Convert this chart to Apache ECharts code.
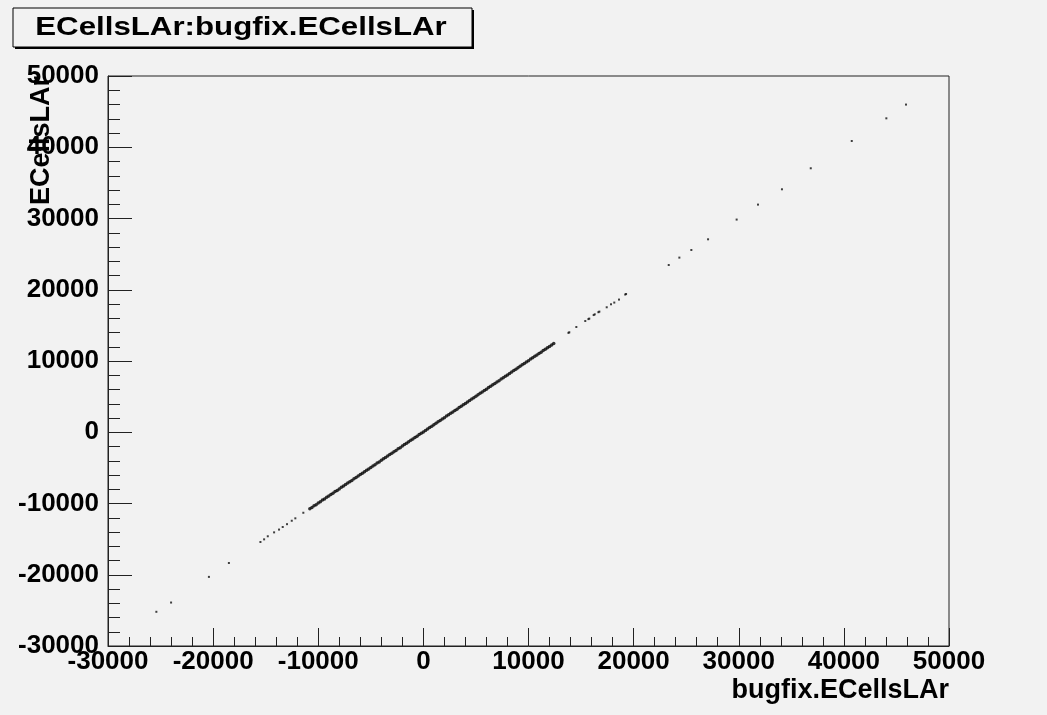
<!DOCTYPE html>
<html>
<head>
<meta charset="utf-8">
<script src="https://cdn.jsdelivr.net/npm/echarts@6/dist/echarts.min.js"></script>
<style>
html,body{margin:0;padding:0;background:#f2f2f2;}
#c{width:1047px;height:715px;}
</style>
</head>
<body>
<div id="c"></div>
<script>
// ---- data ----
const titleText = 'ECellsLAr:bugfix.ECellsLAr';
const xTitle = 'bugfix.ECellsLAr';
const yTitle = 'ECellsLAr';
const xRange = [-30000, 50000];
const yRange = [-30000, 50000];
const tickStep = 10000;

// dense core of the correlation (bugfix.ECellsLAr, ECellsLAr)
const coreCells = [
  [-10800,-10740],[-10600,-10560],[-10400,-10330],[-10200,-10170],[-10000,-9930],
  [-9800,-9760],[-9600,-9520],[-9400,-9380],[-9200,-9120],[-9000,-8950],
  [-8800,-8740],[-8600,-8570],[-8400,-8330],[-8200,-8160],[-8000,-7950],
  [-7800,-7730],[-7600,-7560],[-7400,-7350],[-7200,-7140],[-7000,-6930],
  [-6800,-6770],[-6600,-6520],[-6400,-6350],[-6200,-6150],[-6000,-5930],
  [-5800,-5760],[-5600,-5540],[-5400,-5330],[-5200,-5170],[-5000,-4930],
  [-4800,-4750],[-4600,-4560],[-4400,-4320],[-4200,-4170],[-4000,-3940],
  [-3800,-3730],[-3600,-3560],[-3400,-3350],[-3200,-3120],[-3000,-2960],
  [-2800,-2740],[-2600,-2550],[-2400,-2320],[-2200,-2160],[-2000,-1940],
  [-1800,-1730],[-1600,-1560],[-1400,-1350],[-1200,-1130],[-1000,-960],
  [-800,-740],[-600,-560],[-400,-330],[-200,-150],[0,40],
  [200,260],[400,440],[600,670],[800,830],[1000,1060],
  [1200,1250],[1400,1470],[1600,1640],[1800,1860],[2000,2050],
  [2200,2270],[2400,2440],[2600,2660],[2800,2850],[3000,3070],
  [3200,3240],[3400,3460],[3600,3650],[3800,3870],[4000,4040],
  [4200,4260],[4400,4450],[4600,4670],[4800,4840],[5000,5060],
  [5200,5250],[5400,5470],[5600,5640],[5800,5860],[6000,6050],
  [6200,6270],[6400,6440],[6600,6660],[6800,6850],[7000,7070],
  [7200,7240],[7400,7460],[7600,7650],[7800,7870],[8000,8040],
  [8200,8260],[8400,8450],[8600,8670],[8800,8840],[9000,9060],
  [9200,9250],[9400,9470],[9600,9640],[9800,9860],[10000,10050],
  [10200,10270],[10400,10440],[10600,10660],[10800,10850],[11000,11070],
  [11200,11240],[11400,11460],[11600,11650],[11800,11870],[12000,12040],
  [12200,12260],[12400,12470]
];

// isolated cells away from the core
const sparseCells = [
  [-25400,-25200],[-24000,-23900],[-20400,-20300],[-18500,-18350],
  [-15500,-15400],[-15150,-15030],[-14800,-14600],[-14200,-14050],
  [-13730,-13660],[-13380,-13300],[-12970,-12900],[-12520,-12420],
  [-12180,-12080],[-11420,-11300],
  [13800,13950],[13880,14030],[14550,14770],[15400,15610],[15700,15880],
  [15780,15950],[16200,16450],[16300,16550],[16650,16850],[16740,16930],
  [17440,17540],[17850,17960],[18160,18200],[18610,18620],[19200,19330],
  [19280,19400],[23340,23470],[24350,24510],[25490,25580],[27080,27080],
  [29800,29850],[31830,31950],[34110,34100],[36850,37050],[40750,40880],
  [44040,44060],[45910,45990]
];

const FONT = '"Liberation Sans", Arial, Helvetica, sans-serif';
const chart = echarts.init(document.getElementById('c'), null, {renderer: 'canvas'});
const plain = v => String(v);

const option = {
  backgroundColor: '#f2f2f2',
  animation: false,
  grid: {
    left: 108, top: 76, width: 841, height: 570,
    containLabel: false, outerBoundsMode: 'none',
    show: true, borderColor: '#222', borderWidth: 1, backgroundColor: 'transparent'
  },
  xAxis: {
    type: 'value', min: xRange[0], max: xRange[1], interval: tickStep,
    name: xTitle, nameLocation: 'end', nameGap: 0,
    nameTextStyle: {
      fontFamily: FONT, fontWeight: 'bold', fontSize: 27, color: '#000',
      align: 'right', verticalAlign: 'top', padding: [31, 0, 0, 0]
    },
    axisLine: {show: true, onZero: false, lineStyle: {color: '#222', width: 1}},
    axisTick: {show: true, inside: true, length: 18, lineStyle: {color: '#222'}},
    minorTick: {show: true, splitNumber: 5, length: 9, lineStyle: {color: '#222'}},
    splitLine: {show: false},
    axisLabel: {
      fontFamily: FONT, fontWeight: 'bold', fontSize: 26, color: '#000',
      margin: 3, showMinLabel: true, showMaxLabel: true, hideOverlap: false,
      formatter: plain
    }
  },
  yAxis: {
    type: 'value', min: yRange[0], max: yRange[1], interval: tickStep,
    axisLine: {show: true, onZero: false, lineStyle: {color: '#222', width: 1}},
    axisTick: {show: true, inside: true, length: 24, lineStyle: {color: '#222'}},
    minorTick: {show: true, splitNumber: 5, length: 12, lineStyle: {color: '#222'}},
    splitLine: {show: false},
    axisLabel: {
      fontFamily: FONT, fontWeight: 'bold', fontSize: 26, color: '#000',
      margin: 9, showMinLabel: true, showMaxLabel: true, hideOverlap: false,
      formatter: plain
    }
  },
  graphic: [
    {type: 'rect', z: 10, shape: {x: 15, y: 10, width: 459, height: 39},
     style: {fill: '#000'}},
    {type: 'rect', z: 11, shape: {x: 13, y: 8, width: 459, height: 39},
     style: {fill: '#f2f2f2', stroke: '#000', lineWidth: 1}},
    {type: 'text', z: 12, x: 241, y: 28, scaleX: 1.25,
     style: {text: titleText, font: 'bold 25px ' + FONT, fill: '#000',
             align: 'center', verticalAlign: 'middle',
             textAlign: 'center', textVerticalAlign: 'middle'}},
    {type: 'text', z: 12, x: 42, y: 76, rotation: Math.PI / 2,
     style: {text: yTitle, font: 'bold 27px ' + FONT, fill: '#000',
             align: 'right', verticalAlign: 'middle',
             textAlign: 'right', textVerticalAlign: 'middle'}}
  ],
  series: [
    {type: 'scatter', data: coreCells, symbol: 'circle', symbolSize: 3.5,
     itemStyle: {color: '#000'}, silent: true},
    {type: 'scatter', data: sparseCells, symbol: 'rect', symbolSize: 2,
     itemStyle: {color: '#111'}, silent: true}
  ]
};
chart.setOption(option);
</script>
</body>
</html>
